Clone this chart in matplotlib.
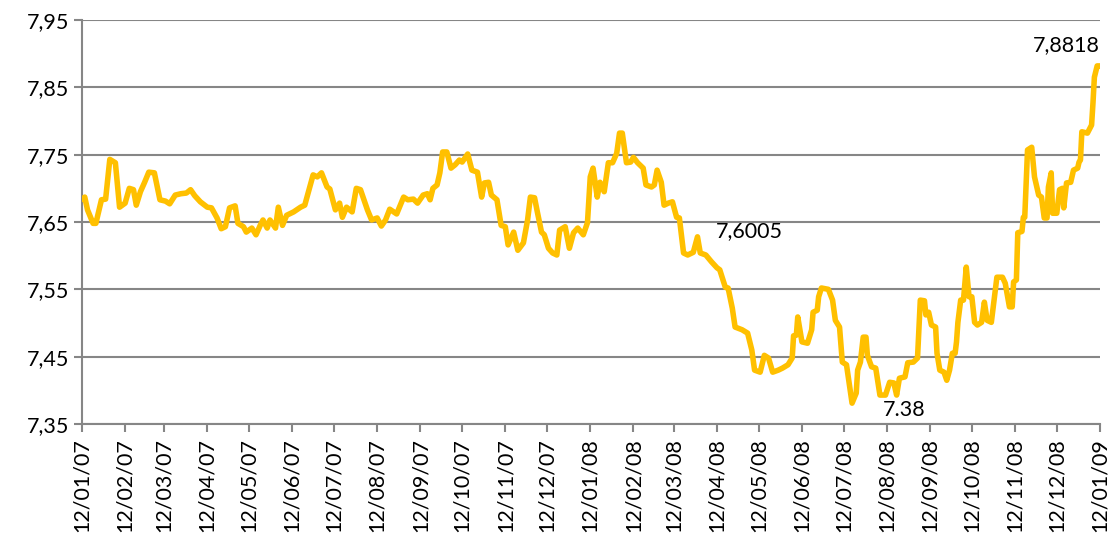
import matplotlib
matplotlib.use("Agg")
import matplotlib.pyplot as plt
import matplotlib.dates as mdates
import numpy as np
import pandas as pd

plt.rcParams['font.family'] = ['Lato', 'DejaVu Sans']

# days after 12/01/07 and the rate
days = [0, 2, 4, 8, 10, 14, 17, 20, 24, 27, 31, 34, 37, 39, 42, 45, 48, 52, 56, 60,
        63, 67, 71, 75, 78, 81, 85, 90, 93, 97, 100, 103, 106, 110, 112, 116, 118, 122,
        125, 128, 130, 133, 135, 139, 141, 144, 147, 152, 157, 160, 162, 166, 169, 172,
        176, 178, 182, 185, 187, 190, 194, 197, 200, 205, 208, 212, 215, 218, 221, 226,
        231, 234, 238, 241, 245, 248, 250, 252, 255, 257, 259, 262, 265, 268, 271, 273,
        277, 280, 284, 287, 289, 292, 294, 298, 301, 304, 306, 310, 313, 317, 320, 322,
        325, 327, 330, 332, 335, 338, 341, 343, 347, 350, 353, 356, 360, 363, 365, 367,
        370, 372, 375, 378, 381, 384, 386, 388, 391, 394, 396, 399, 403, 405, 409, 411,
        413, 416, 418, 421, 424, 427, 429, 432, 435, 439, 442, 444, 448, 452, 456, 458,
        462, 464, 467, 469, 474, 478, 481, 483, 487, 490, 493, 496, 500, 503, 507, 510,
        511, 513, 514, 517, 521, 524, 525, 528, 529, 531, 536, 539, 541, 544, 546, 549,
        553, 556, 557, 559, 561, 563, 564, 567, 570, 573, 577, 580, 583, 585, 587, 591,
        593, 597, 600, 602, 605, 606, 608, 610, 613, 614, 616, 619, 621, 623, 625, 627,
        628, 629, 631, 633, 635, 637, 639, 641, 643, 646, 648, 650, 653, 655, 657, 661,
        663, 666, 668, 669, 671, 672, 675, 676, 677, 679, 682, 684, 687, 689, 691, 693,
        694, 696, 697, 700, 702, 704, 705, 707, 710, 712, 715, 716, 717, 718, 722, 725,
        726, 727, 729, 731]
rate = [7.684, 7.687, 7.668, 7.648, 7.648, 7.683, 7.684, 7.743, 7.738, 7.672, 7.678, 7.700,
        7.698, 7.675, 7.695, 7.709, 7.724, 7.723, 7.683, 7.681, 7.677, 7.690, 7.692, 7.693,
        7.698, 7.689, 7.680, 7.672, 7.671, 7.656, 7.640, 7.643, 7.671, 7.674, 7.648, 7.643,
        7.635, 7.641, 7.631, 7.645, 7.653, 7.641, 7.653, 7.641, 7.672, 7.645, 7.660, 7.665,
        7.672, 7.675, 7.690, 7.720, 7.717, 7.723, 7.702, 7.699, 7.668, 7.678, 7.657, 7.672,
        7.665, 7.700, 7.698, 7.668, 7.653, 7.656, 7.644, 7.653, 7.669, 7.662, 7.687, 7.683,
        7.684, 7.678, 7.690, 7.692, 7.683, 7.700, 7.705, 7.723, 7.754, 7.754, 7.730, 7.735,
        7.742, 7.739, 7.751, 7.727, 7.724, 7.687, 7.708, 7.709, 7.690, 7.683, 7.645, 7.643,
        7.616, 7.635, 7.608, 7.619, 7.653, 7.687, 7.686, 7.665, 7.635, 7.631, 7.611, 7.604,
        7.601, 7.638, 7.643, 7.611, 7.634, 7.641, 7.631, 7.649, 7.717, 7.730, 7.687, 7.709,
        7.695, 7.738, 7.738, 7.752, 7.782, 7.782, 7.738, 7.739, 7.746, 7.738, 7.730, 7.705,
        7.702, 7.705, 7.727, 7.709, 7.675, 7.678, 7.680, 7.657, 7.656, 7.604, 7.601, 7.605,
        7.628, 7.604, 7.601, 7.591, 7.582, 7.579, 7.553, 7.552, 7.522, 7.494, 7.490, 7.485,
        7.460, 7.430, 7.427, 7.452, 7.448, 7.427, 7.430, 7.433, 7.438, 7.448, 7.481, 7.482,
        7.509, 7.472, 7.470, 7.490, 7.516, 7.519, 7.539, 7.552, 7.550, 7.534, 7.504, 7.494,
        7.442, 7.438, 7.381, 7.396, 7.430, 7.442, 7.479, 7.479, 7.452, 7.435, 7.433, 7.393,
        7.393, 7.412, 7.411, 7.393, 7.418, 7.420, 7.441, 7.442, 7.448, 7.534, 7.533, 7.512,
        7.516, 7.497, 7.494, 7.455, 7.430, 7.427, 7.415, 7.430, 7.455, 7.455, 7.472, 7.501,
        7.534, 7.534, 7.583, 7.539, 7.539, 7.501, 7.497, 7.501, 7.531, 7.504, 7.501, 7.534,
        7.568, 7.568, 7.559, 7.524, 7.524, 7.561, 7.564, 7.634, 7.636, 7.657, 7.657, 7.757,
        7.761, 7.717, 7.690, 7.687, 7.656, 7.656, 7.702, 7.723, 7.663, 7.663, 7.698, 7.700,
        7.671, 7.708, 7.709, 7.727, 7.730, 7.739, 7.742, 7.784, 7.782, 7.794, 7.827, 7.865,
        7.8818, 7.8818]

start = pd.Timestamp('2007-01-12')
end = pd.Timestamp('2009-01-12')
dates = start + pd.to_timedelta(days, unit='D')
month_ticks = pd.date_range(start, end, freq=pd.DateOffset(months=1))
yticks = [7.35, 7.45, 7.55, 7.65, 7.75, 7.85, 7.95]

grey = '#868686'
fig = plt.figure(figsize=(11.15, 5.46), dpi=100)
ax = fig.add_axes([0.0735, 0.2234, 0.913, 0.74])

ax.plot(dates, rate, color='#FFC000', lw=4, solid_joinstyle='round', zorder=3)

ax.set_xlim(start, end)
ax.set_ylim(7.35, 7.95)
ax.set_yticks(yticks)
ax.set_yticklabels([f'{v:.2f}'.replace('.', ',') for v in yticks])
ax.set_xticks(month_ticks)
ax.xaxis.set_major_formatter(mdates.DateFormatter('%d/%m/%y'))
plt.setp(ax.get_xticklabels(), rotation=90)

ax.grid(axis='y', color=grey, lw=1.5)
ax.set_axisbelow(True)
for s in ['top', 'right']:
    ax.spines[s].set_visible(False)
for s in ['left', 'bottom']:
    ax.spines[s].set_color(grey)
    ax.spines[s].set_linewidth(1.5)
ax.tick_params(axis='both', colors=grey, width=1.5, length=6, labelcolor='black', labelsize=15.5)
ax.tick_params(axis='x', pad=4)

ax.text(end, 7.913, '7,8818', ha='right', va='center', fontsize=15.5)
ax.text(start + pd.Timedelta(days=455), 7.637, '7,6005', ha='left', va='center', fontsize=15.5)
ax.text(start + pd.Timedelta(days=575), 7.371, '7.38', ha='left', va='center', fontsize=15.5)

fig.savefig('out.png', dpi=100)
